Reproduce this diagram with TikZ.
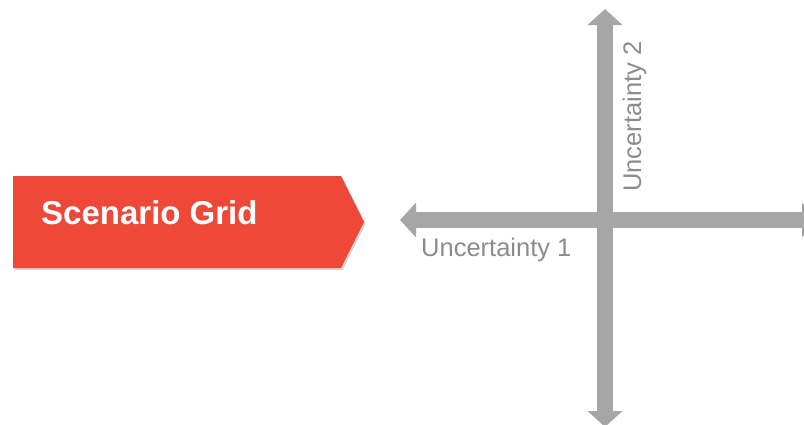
\documentclass[tikz,border=0pt]{standalone}
\usepackage{fontspec}
\setmainfont{Liberation Sans}
\usetikzlibrary{arrows.meta,shadows}
\definecolor{boxred}{RGB}{238,72,56}
\definecolor{axisgrey}{RGB}{166,166,166}
\definecolor{labelgrey}{RGB}{140,140,140}
\tikzset{
  axis/.style={draw=axisgrey, line width=15.5pt,
    {Triangle[length=16pt,width=34pt]}-{Triangle[length=16pt,width=34pt]}},
  axislabel/.style={text=labelgrey, inner sep=0pt, font=\fontsize{25.5}{30}\selectfont},
  titlebox/.style={fill=boxred, draw=none, drop shadow={shadow xshift=1.5pt, shadow yshift=-2pt, opacity=0.35}},
}
\begin{document}
\begin{tikzpicture}[x=1pt,y=-1pt]
\useasboundingbox (0,0) rectangle (804,424);
\begin{scope}
\clip (0,0) rectangle (804,424);
\path[titlebox] (13,176) -- (341,176) -- (364,222) -- (341,268) -- (13,268) -- cycle;
\node[anchor=base west, inner sep=0pt, text=white, font=\bfseries\fontsize{33}{38}\selectfont] (title) at (41,224) {Scenario Grid};
\coordinate (hl) at (400,220);
\coordinate (hr) at (818,220);
\coordinate (vt) at (605,9);
\coordinate (vb) at (605,427);
\draw[axis] (hl) -- (hr);
\draw[axis] (vt) -- (vb);
\node[axislabel, anchor=base west] (u1) at (421,256) {Uncertainty 1};
\node[axislabel, anchor=base west, rotate=90] (u2) at (641,192) {Uncertainty 2};
\end{scope}
\end{tikzpicture}
\end{document}
